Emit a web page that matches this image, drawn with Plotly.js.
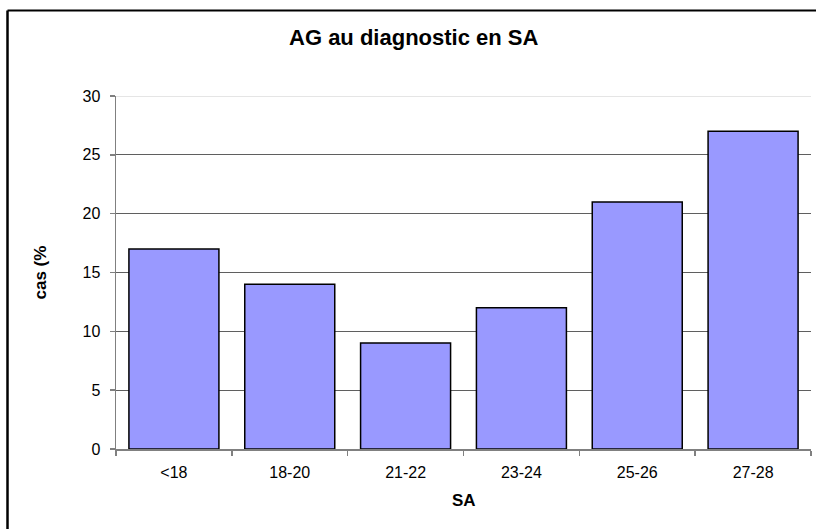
<!DOCTYPE html>
<html>
<head>
<meta charset="utf-8">
<script src="https://cdn.plot.ly/plotly-3.0.1.min.js"></script>
<style>
  html, body { margin: 0; padding: 0; background: #ffffff; }
  #chart { width: 816px; height: 529px; }
</style>
</head>
<body>
<div id="chart"></div>
<script>
// Data
const categories = ["<18", "18-20", "21-22", "23-24", "25-26", "27-28"];
const casPercent = [17, 14, 9, 12, 21, 27];
const yTicks = [0, 5, 10, 15, 20, 25, 30];

const chartTitle = "AG au diagnostic en SA";
const xTitle = "SA";
const yTitle = "cas (%";

const FONT = "'Liberation Sans', Arial, sans-serif";

const trace = {
  type: "bar",
  x: categories,
  y: casPercent,
  marker: {
    color: "#9999FF",
    line: { color: "#000000", width: 1.5 }
  },
  hoverinfo: "x+y"
};

const layout = {
  width: 816,
  height: 529,
  paper_bgcolor: "#ffffff",
  plot_bgcolor: "#ffffff",
  margin: { l: 116, r: 5, t: 96, b: 80 },
  showlegend: false,
  bargap: 0.223,
  font: { family: FONT, color: "#000000", size: 16 },
  title: {
    text: "<b>" + chartTitle + "</b>",
    font: { family: FONT, size: 22, color: "#000000" },
    xref: "container", yref: "container",
    x: 0.507, xanchor: "center",
    y: 1 - 37 / 529, yanchor: "middle"
  },
  xaxis: {
    type: "category",
    tickson: "boundaries",
    ticks: "outside",
    ticklen: 5,
    tickwidth: 1.5,
    tickcolor: "#808080",
    showline: true,
    linecolor: "#808080",
    linewidth: 1.5,
    showgrid: false,
    zeroline: false,
    ticklabelstandoff: 8,
    tickfont: { family: FONT, size: 16, color: "#000000" },
    fixedrange: true
  },
  yaxis: {
    range: [0, 30],
    tickvals: yTicks,
    ticktext: yTicks.map(String),
    ticks: "outside",
    ticklen: 5,
    tickwidth: 1.5,
    tickcolor: "#808080",
    showline: true,
    linecolor: "#808080",
    linewidth: 1.5,
    showgrid: true,
    gridcolor: "#5f5f5f",
    gridwidth: 1,
    zeroline: false,
    ticklabelstandoff: 6,
    tickfont: { family: FONT, size: 16, color: "#000000" },
    fixedrange: true
  },
  annotations: [
    {
      text: "<b>" + yTitle + "</b>",
      xref: "paper", yref: "paper",
      x: (40 - 116) / 695, y: 0.5,
      xanchor: "center", yanchor: "middle",
      textangle: -90,
      showarrow: false,
      font: { family: FONT, size: 17, color: "#000000" }
    },
    {
      text: "<b>" + xTitle + "</b>",
      xref: "paper", yref: "paper",
      x: 0.5, y: (449 - 500) / 353,
      xanchor: "center", yanchor: "middle",
      showarrow: false,
      font: { family: FONT, size: 17, color: "#000000" }
    }
  ],
  shapes: [
    // light top line of the plot area at y = 30
    {
      type: "line", xref: "paper", yref: "y",
      x0: 0, x1: 1, y0: 30, y1: 30,
      line: { color: "#dcdcdc", width: 1.5 },
      layer: "above"
    },
    // outer chart border (left and top, as visible in the reference)
    {
      type: "line", xref: "paper", yref: "paper",
      x0: (7.5 - 116) / 695, x1: (7.5 - 116) / 695,
      y0: (449 - 10.5) / 353, y1: -0.3,
      line: { color: "#000000", width: 2.5 }
    },
    {
      type: "line", xref: "paper", yref: "paper",
      x0: (7.5 - 116) / 695, x1: 1.1,
      y0: (449 - 10.5) / 353, y1: (449 - 10.5) / 353,
      line: { color: "#000000", width: 2 }
    }
  ]
};

Plotly.newPlot("chart", [trace], layout, { displayModeBar: false, staticPlot: true });
</script>
</body>
</html>
